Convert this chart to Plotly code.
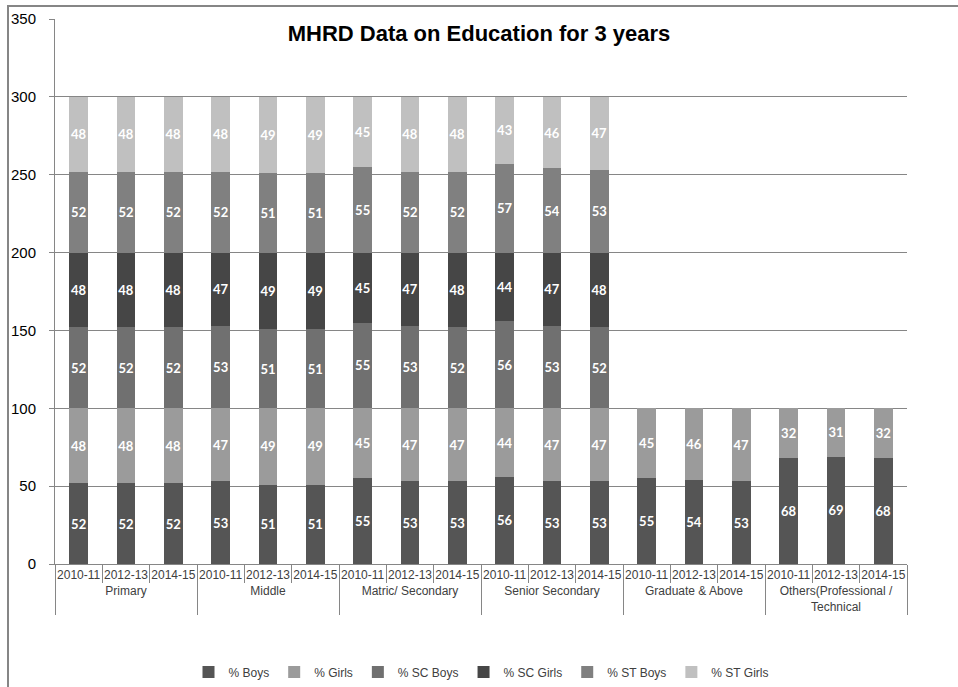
import plotly.graph_objects as go

# Education levels and survey years
levels = ["Primary", "Middle", "Matric/ Secondary", "Senior Secondary",
          "Graduate & Above", "Others(Professional /<br>Technical"]
years = ["2010-11", "2012-13", "2014-15"]

# Percentages per level, one value per year
boys = [52, 52, 52, 53, 51, 51, 55, 53, 53, 56, 53, 53, 55, 54, 53, 68, 69, 68]
girls = [48, 48, 48, 47, 49, 49, 45, 47, 47, 44, 47, 47, 45, 46, 47, 32, 31, 32]
sc_boys = [52, 52, 52, 53, 51, 51, 55, 53, 52, 56, 53, 52, None, None, None, None, None, None]
sc_girls = [48, 48, 48, 47, 49, 49, 45, 47, 48, 44, 47, 48, None, None, None, None, None, None]
st_boys = [52, 52, 52, 52, 51, 51, 55, 52, 52, 57, 54, 53, None, None, None, None, None, None]
st_girls = [48, 48, 48, 48, 49, 49, 45, 48, 48, 43, 46, 47, None, None, None, None, None, None]

series = [
    ("% Boys", boys, "#555555"),
    ("% Girls", girls, "#9b9b9b"),
    ("% SC Boys", sc_boys, "#707070"),
    ("% SC Girls", sc_girls, "#464646"),
    ("% ST Boys", st_boys, "#808080"),
    ("% ST Girls", st_girls, "#c0c0c0"),
]

x_outer = [lv for lv in levels for _ in years]
x_inner = [yr for _ in levels for yr in years]

fig = go.Figure()
for name, vals, color in series:
    fig.add_trace(go.Bar(
        name=name,
        x=[x_outer, x_inner],
        y=vals,
        marker=dict(color=color, line=dict(width=0)),
        text=[("" if v is None else "<b>%d</b>" % v) for v in vals],
        textposition="inside",
        insidetextanchor="middle",
        textangle=0,
        textfont=dict(family="Lato, sans-serif", size=13, color="white"),
        cliponaxis=False,
    ))

fig.update_layout(
    barmode="stack",
    bargap=0.6,
    width=958,
    height=687,
    paper_bgcolor="white",
    plot_bgcolor="white",
    margin=dict(l=55, r=51, t=19, b=123, autoexpand=False),
    font=dict(family="Liberation Sans, Arial, sans-serif", color="#404040"),
    title=dict(
        text="<b>MHRD Data on Education for 3 years</b>",
        x=0.5, xanchor="center",
        y=1 - 33 / 687, yanchor="middle",
        font=dict(family="Liberation Sans, Arial, sans-serif", size=22, color="black"),
    ),
    uniformtext=dict(minsize=13, mode="show"),
    legend=dict(
        orientation="h",
        x=0.5, xanchor="center",
        yref="container",
        y=1 - 672 / 687, yanchor="middle",
        font=dict(size=12, color="#404040"),
        itemwidth=30,
        traceorder="normal",
    ),
    showlegend=True,
)

fig.update_yaxes(
    range=[0, 350],
    dtick=50,
    showgrid=True,
    gridcolor="#868686",
    gridwidth=1,
    showline=True,
    linecolor="#868686",
    ticks="outside",
    ticklen=5,
    tickcolor="#868686",
    ticklabelstandoff=10,
    tickfont=dict(size=15, color="#000000"),
    zeroline=False,
    automargin=False,
)

fig.update_xaxes(
    type="multicategory",
    showline=True,
    linecolor="#868686",
    ticks="outside",
    tickson="boundaries",
    ticklen=18,
    tickcolor="#868686",
    tickangle=0,
    showdividers=True,
    dividercolor="#868686",
    dividerwidth=1,
    tickfont=dict(size=12, color="#404040"),
    automargin=False,
)

# Outer chart frame
fig.add_shape(
    type="rect", xref="paper", yref="paper",
    x0=(8 - 55) / 852, x1=(975 - 55) / 852,
    y0=(564 - 700) / 545, y1=(564 - 6) / 545,
    line=dict(color="#868686", width=2),
    fillcolor="rgba(0,0,0,0)",
    layer="below",
)

fig.write_html("out.html")
